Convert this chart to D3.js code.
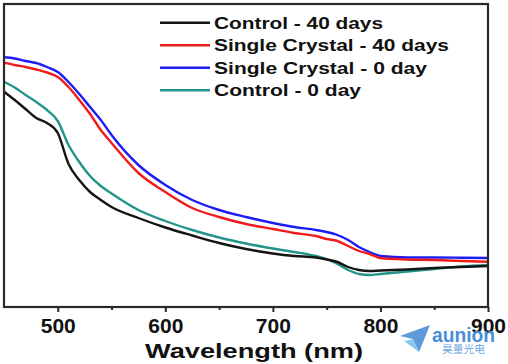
<!DOCTYPE html>
<html><head><meta charset="utf-8">
<script src="https://cdn.jsdelivr.net/npm/d3@7/dist/d3.min.js"></script>
<style>html,body{margin:0;padding:0;background:#fff;}svg{display:block;}</style>
</head><body>
<svg id="chart" width="508" height="364"></svg>
<script>
const wavelengths = [450,460,470,480,490,500,510,520,530,540,550,575,600,625,650,675,700,720,740,750,760,770,780,790,800,825,850,875,900];
const control40 = [2.153,2.07,1.98,1.89,1.84,1.74,1.43,1.27,1.15,1.07,1.00,0.89,0.795,0.715,0.64,0.58,0.535,0.51,0.495,0.475,0.45,0.40,0.37,0.36,0.365,0.375,0.39,0.40,0.41];
const single40 = [2.443,2.42,2.40,2.375,2.345,2.30,2.20,2.07,1.93,1.77,1.64,1.34,1.15,0.99,0.90,0.83,0.78,0.74,0.71,0.68,0.66,0.61,0.56,0.53,0.49,0.475,0.47,0.46,0.453];
const single0 = [2.497,2.485,2.46,2.44,2.40,2.35,2.25,2.13,2.00,1.87,1.72,1.42,1.22,1.07,0.97,0.90,0.84,0.80,0.77,0.75,0.72,0.67,0.60,0.55,0.51,0.495,0.495,0.493,0.49];
const control0 = [2.253,2.195,2.12,2.05,1.97,1.86,1.62,1.45,1.31,1.21,1.135,0.97,0.86,0.77,0.695,0.635,0.585,0.55,0.51,0.48,0.43,0.37,0.33,0.32,0.33,0.355,0.38,0.405,0.42];
const seriesNames = ["Control - 40 days","Single Crystal - 40 days","Single Crystal - 0 day","Control - 0 day"];
const seriesColors = ["#151515","#f01c1c","#1c1cf5","#23958a"];
const seriesData = [control40, single40, single0, control0];
const xTicks = [500,600,700,800,900];
const xMinorTicks = [550,650,750,850];
const xTitle = "Wavelength (nm)";

const svg = d3.select("#chart");
const L = 4, R = 488, T = 4, B = 307;
const x = d3.scaleLinear().domain([450,900]).range([L,R]);
const y = d3.scaleLinear().domain([0,3.03]).range([B,T]);

const line = d3.line().x((d,i)=>x(wavelengths[i])).y(d=>y(d)).curve(d3.curveMonotoneX);
const order = [3,2,1,0];
order.forEach(k=>{
  svg.append("path").datum(seriesData[k]).attr("d",line)
    .attr("fill","none").attr("stroke",seriesColors[k]).attr("stroke-width",2.4)
    .attr("stroke-linejoin","round");
});

// frame
svg.append("rect").attr("x",L).attr("y",T).attr("width",R-L).attr("height",B-T)
  .attr("fill","none").attr("stroke","#2a2a2a").attr("stroke-width",2.2);

// bottom axis
const ax = svg.append("g").attr("transform",`translate(0,${B})`)
  .call(d3.axisBottom(x).tickValues(xTicks).tickSize(5).tickFormat(d3.format("d")));
ax.select(".domain").remove();
ax.selectAll(".tick line").attr("stroke","#2a2a2a").attr("stroke-width",2);
ax.selectAll(".tick text").attr("font-family","'Liberation Sans', Arial, sans-serif")
  .attr("font-weight","bold").attr("font-size","21px").attr("fill","#111").attr("dy","0").attr("y",26);
const axm = svg.append("g").attr("transform",`translate(0,${B})`)
  .call(d3.axisBottom(x).tickValues(xMinorTicks).tickSize(3).tickFormat(""));
axm.select(".domain").remove();
axm.selectAll(".tick line").attr("stroke","#2a2a2a").attr("stroke-width",2);

// axis title
svg.append("text").attr("x",(145+363)/2).attr("y",358).attr("text-anchor","middle")
  .attr("font-family","'Liberation Sans', Arial, sans-serif").attr("font-weight","bold")
  .attr("font-size","20px").attr("fill","#111")
  .attr("textLength",218).attr("lengthAdjust","spacingAndGlyphs").text(xTitle);

// legend
const legendWidths = [169,235,213,147];
seriesNames.forEach((n,i)=>{
  const yy = 22.7 + i*22.5;
  svg.append("line").attr("x1",160).attr("x2",210).attr("y1",yy).attr("y2",yy)
    .attr("stroke",seriesColors[i]).attr("stroke-width",2.4);
  svg.append("text").attr("x",214).attr("y",yy+6).attr("font-family","'Liberation Sans', Arial, sans-serif")
    .attr("font-weight","bold").attr("font-size","17px").attr("fill","#111")
    .attr("textLength",legendWidths[i]).attr("lengthAdjust","spacingAndGlyphs").text(n);
});

// watermark
const wm = svg.append("g");
wm.append("path").attr("d","M400,336 L430,325 L419,352 L413,339 Z").attr("fill","#4a8fd6").attr("opacity",0.9);
wm.append("path").attr("d","M404,341 L413,339 L419,352 Z").attr("fill","#8cc8ee");
wm.append("text").attr("x",432).attr("y",342).attr("font-family","'Liberation Sans', Arial, sans-serif")
  .attr("font-weight","bold").attr("font-size","20px").attr("fill","#4a8fd6")
  .attr("textLength",63).attr("lengthAdjust","spacingAndGlyphs").text("aunion");
wm.append("text").attr("x",442).attr("y",353).attr("font-family","'Noto Sans CJK SC', sans-serif")
  .attr("font-size","10.5px").attr("fill","#6aa8e0").attr("textLength",43).attr("lengthAdjust","spacingAndGlyphs").text("昊量光电");
</script>
</body></html>
